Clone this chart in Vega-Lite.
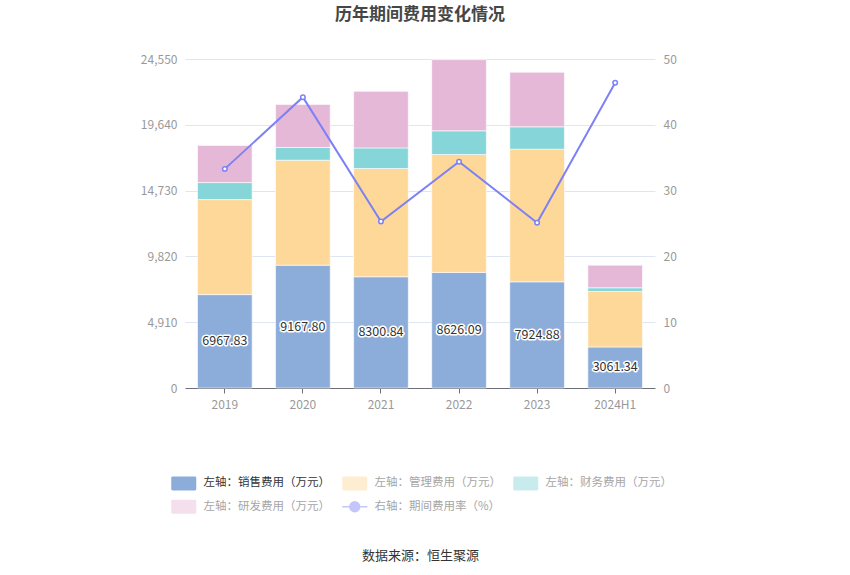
{
  "$schema": "https://vega.github.io/schema/vega-lite/v6.json",
  "width": 470,
  "height": 329,
  "autosize": {"type": "none"},
  "padding": {"left": 185, "top": 59, "right": 195, "bottom": 187},
  "title": {
    "text": "历年期间费用变化情况",
    "anchor": "middle",
    "fontSize": 17,
    "fontWeight": "bold",
    "color": "#464646",
    "offset": 29
  },
  "datasets": {
    "cost": [
      {"year": "2019", "series": "左轴：销售费用（万元）", "k": 1, "value": 6967.83},
      {"year": "2019", "series": "左轴：管理费用（万元）", "k": 2, "value": 7090},
      {"year": "2019", "series": "左轴：财务费用（万元）", "k": 3, "value": 1270},
      {"year": "2019", "series": "左轴：研发费用（万元）", "k": 4, "value": 2770},
      {"year": "2020", "series": "左轴：销售费用（万元）", "k": 1, "value": 9167.80},
      {"year": "2020", "series": "左轴：管理费用（万元）", "k": 2, "value": 7830},
      {"year": "2020", "series": "左轴：财务费用（万元）", "k": 3, "value": 950},
      {"year": "2020", "series": "左轴：研发费用（万元）", "k": 4, "value": 3215},
      {"year": "2021", "series": "左轴：销售费用（万元）", "k": 1, "value": 8300.84},
      {"year": "2021", "series": "左轴：管理费用（万元）", "k": 2, "value": 8075},
      {"year": "2021", "series": "左轴：财务费用（万元）", "k": 3, "value": 1540},
      {"year": "2021", "series": "左轴：研发费用（万元）", "k": 4, "value": 4220},
      {"year": "2022", "series": "左轴：销售费用（万元）", "k": 1, "value": 8626.09},
      {"year": "2022", "series": "左轴：管理费用（万元）", "k": 2, "value": 8800},
      {"year": "2022", "series": "左轴：财务费用（万元）", "k": 3, "value": 1765},
      {"year": "2022", "series": "左轴：研发费用（万元）", "k": 4, "value": 5310},
      {"year": "2023", "series": "左轴：销售费用（万元）", "k": 1, "value": 7924.88},
      {"year": "2023", "series": "左轴：管理费用（万元）", "k": 2, "value": 9895},
      {"year": "2023", "series": "左轴：财务费用（万元）", "k": 3, "value": 1670},
      {"year": "2023", "series": "左轴：研发费用（万元）", "k": 4, "value": 4070},
      {"year": "2024H1", "series": "左轴：销售费用（万元）", "k": 1, "value": 3061.34},
      {"year": "2024H1", "series": "左轴：管理费用（万元）", "k": 2, "value": 4140},
      {"year": "2024H1", "series": "左轴：财务费用（万元）", "k": 3, "value": 277},
      {"year": "2024H1", "series": "左轴：研发费用（万元）", "k": 4, "value": 1690}
    ],
    "rate": [
      {"year": "2019", "rate": 33.3},
      {"year": "2020", "rate": 44.2},
      {"year": "2021", "rate": 25.3},
      {"year": "2022", "rate": 34.4},
      {"year": "2023", "rate": 25.1},
      {"year": "2024H1", "rate": 46.4}
    ]
  },
  "encoding": {
    "x": {
      "field": "year",
      "type": "nominal",
      "sort": null,
      "scale": {"paddingInner": 0.3, "paddingOuter": 0.16},
      "axis": {
        "labelAngle": 0,
        "labelColor": "#999999",
        "labelFontSize": 12,
        "labelPadding": 6,
        "domainColor": "#6e7079",
        "tickColor": "#6e7079",
        "tickSize": 5,
        "title": "数据来源：恒生聚源",
        "titleFontSize": 13,
        "titleFontWeight": "normal",
        "titleColor": "#333333",
        "titlePadding": 139
      }
    }
  },
  "layer": [
    {
      "data": {"name": "cost"},
      "layer": [
        {
          "mark": {"type": "bar", "stroke": "#ffffff", "strokeWidth": 0.6},
          "encoding": {
            "y": {
              "field": "value",
              "type": "quantitative",
              "aggregate": "sum",
              "scale": {"domain": [0, 24550], "nice": false},
              "axis": {
                "values": [0, 4910, 9820, 14730, 19640, 24550],
                "format": ",.0f",
                "title": null,
                "domain": false,
                "ticks": false,
                "labelColor": "#999999",
                "labelFontSize": 12,
                "labelPadding": 8,
                "gridColor": "#e0e6f1"
              }
            },
            "color": {
              "field": "series",
              "type": "nominal",
              "scale": {
                "domain": [
                  "左轴：销售费用（万元）",
                  "左轴：管理费用（万元）",
                  "左轴：财务费用（万元）",
                  "左轴：研发费用（万元）",
                  "右轴：期间费用率（%）"
                ],
                "range": ["#8cacd9", "#fed898", "#86d5d8", "#e6b8d8", "#7d81f4"]
              },
              "legend": {
                "orient": "none",
                "legendX": -7,
                "legendY": 418,
                "direction": "horizontal",
                "columns": 3,
                "columnPadding": 9,
                "rowPadding": 7,
                "gridAlign": "all",
                "title": null,
                "symbolSize": 196,
                "symbolType": {"expr": "datum.value === '右轴：期间费用率（%）' ? 'M-1.786,0H-0.7A0.7,0.7 0 1,1 0.7,0A0.7,0.7 0 1,1 -0.7,0ZM0.7,0H1.786' : 'M-1.6,-1H1.6Q1.786,-1 1.786,-0.8V0.8Q1.786,1 1.6,1H-1.6Q-1.786,1 -1.786,0.8V-0.8Q-1.786,-1 -1.6,-1Z'"},
                "symbolOpacity": {"expr": "datum.value === '左轴：销售费用（万元）' ? 1 : 0.45"},
                "symbolStrokeWidth": {"expr": "datum.value === '右轴：期间费用率（%）' ? 1.5 : 0"},
                "labelColor": {"expr": "datum.value === '左轴：销售费用（万元）' ? '#333333' : '#a6a6a6'"},
                "labelFontSize": 11.5,
                "labelOffset": 14,
                "labelLimit": 200
              }
            },
            "order": {"field": "k", "type": "quantitative"}
          }
        },
        {
          "transform": [
            {"filter": "datum.k == 1"},
            {"calculate": "datum.value / 2", "as": "mid"}
          ],
          "mark": {"type": "text", "fontSize": 12.5, "stroke": "#ffffff", "strokeWidth": 3, "strokeJoin": "round", "fill": "#ffffff", "baseline": "middle"},
          "encoding": {
            "y": {"field": "mid", "type": "quantitative"},
            "text": {"field": "value", "type": "quantitative", "format": ".2f"}
          }
        },
        {
          "transform": [
            {"filter": "datum.k == 1"},
            {"calculate": "datum.value / 2", "as": "mid"}
          ],
          "mark": {"type": "text", "fontSize": 12.5, "fill": "#333333", "baseline": "middle"},
          "encoding": {
            "y": {"field": "mid", "type": "quantitative"},
            "text": {"field": "value", "type": "quantitative", "format": ".2f"}
          }
        }
      ]
    },
    {
      "data": {"name": "rate"},
      "mark": {
        "type": "line",
        "strokeWidth": 2,
        "point": {"filled": false, "fill": "#ffffff", "size": 20, "strokeWidth": 1.5}
      },
      "encoding": {
        "y": {
          "field": "rate",
          "type": "quantitative",
          "scale": {"domain": [0, 50], "nice": false},
          "axis": {
            "orient": "right",
            "values": [0, 10, 20, 30, 40, 50],
            "title": null,
            "domain": false,
            "ticks": false,
            "grid": false,
            "labelColor": "#999999",
            "labelFontSize": 12,
            "labelPadding": 8
          }
        },
        "color": {"datum": "右轴：期间费用率（%）", "legend": null}
      }
    }
  ],
  "resolve": {"scale": {"y": "independent"}},
  "config": {
    "font": "Noto Sans CJK SC",
    "view": {"stroke": null}
  }
}
